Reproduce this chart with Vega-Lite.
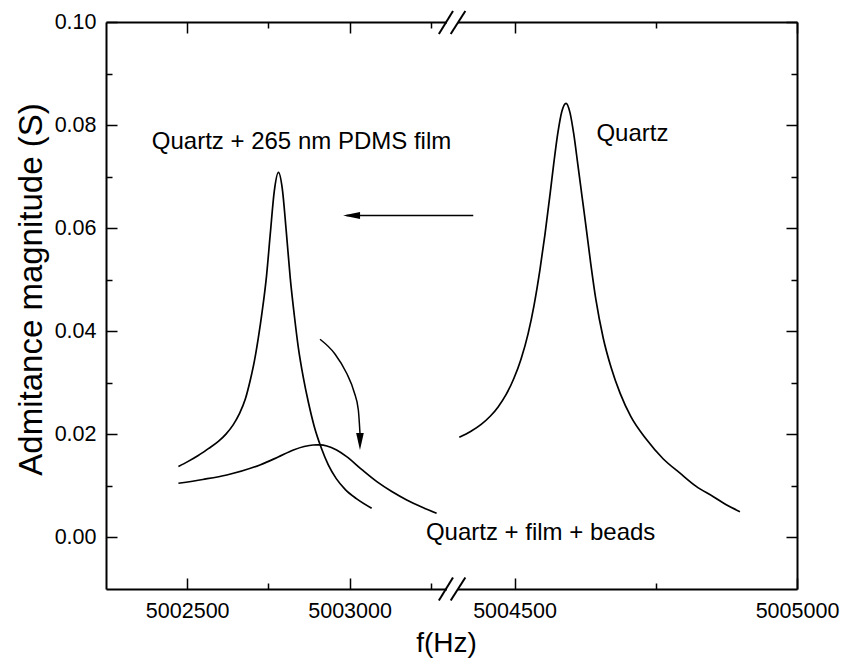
{
  "$schema": "https://vega.github.io/schema/vega-lite/v6.json",
  "autosize": {"type": "none"},
  "padding": {"left": 106, "top": 22, "right": 46, "bottom": 76},
  "width": 691,
  "height": 567,
  "background": "white",
  "config": {
    "view": {"stroke": null},
    "font": "Liberation Sans",
    "axis": {
      "labelFont": "Liberation Sans",
      "titleFont": "Liberation Sans",
      "labelColor": "black",
      "titleColor": "black",
      "domainColor": "black",
      "tickColor": "black",
      "domainWidth": 2,
      "tickWidth": 1.5,
      "grid": false,
      "labelFlush": false,
      "labelOverlap": false,
      "titleFontWeight": "normal"
    }
  },
  "datasets": {
    "curves": [
      {"series": "film", "f": 5002473, "y": 0.01376},
      {"series": "film", "f": 5002503, "y": 0.01476},
      {"series": "film", "f": 5002534, "y": 0.01590},
      {"series": "film", "f": 5002565, "y": 0.01723},
      {"series": "film", "f": 5002596, "y": 0.01863},
      {"series": "film", "f": 5002620, "y": 0.02010},
      {"series": "film", "f": 5002642, "y": 0.02189},
      {"series": "film", "f": 5002660.5, "y": 0.02396},
      {"series": "film", "f": 5002679, "y": 0.02685},
      {"series": "film", "f": 5002694, "y": 0.03045},
      {"series": "film", "f": 5002707, "y": 0.03424},
      {"series": "film", "f": 5002719, "y": 0.03871},
      {"series": "film", "f": 5002731, "y": 0.04390},
      {"series": "film", "f": 5002744, "y": 0.05057},
      {"series": "film", "f": 5002756, "y": 0.05901},
      {"series": "film", "f": 5002768, "y": 0.06710},
      {"series": "film", "f": 5002781, "y": 0.07084},
      {"series": "film", "f": 5002793, "y": 0.06759},
      {"series": "film", "f": 5002805, "y": 0.05944},
      {"series": "film", "f": 5002817.5, "y": 0.05020},
      {"series": "film", "f": 5002830, "y": 0.04301},
      {"series": "film", "f": 5002842, "y": 0.03694},
      {"series": "film", "f": 5002857.5, "y": 0.03106},
      {"series": "film", "f": 5002873, "y": 0.02627},
      {"series": "film", "f": 5002891, "y": 0.02159},
      {"series": "film", "f": 5002913, "y": 0.01735},
      {"series": "film", "f": 5002934.5, "y": 0.01408},
      {"series": "film", "f": 5002959, "y": 0.01141},
      {"series": "film", "f": 5002987, "y": 0.00929},
      {"series": "film", "f": 5003021, "y": 0.00754},
      {"series": "film", "f": 5003068, "y": 0.00567},
      {"series": "quartz", "f": 5004402.3, "y": 0.01944},
      {"series": "quartz", "f": 5004423, "y": 0.02061},
      {"series": "quartz", "f": 5004441, "y": 0.02194},
      {"series": "quartz", "f": 5004457, "y": 0.02351},
      {"series": "quartz", "f": 5004471, "y": 0.02533},
      {"series": "quartz", "f": 5004485, "y": 0.02770},
      {"series": "quartz", "f": 5004499, "y": 0.03088},
      {"series": "quartz", "f": 5004511.5, "y": 0.03459},
      {"series": "quartz", "f": 5004524, "y": 0.03950},
      {"series": "quartz", "f": 5004534.5, "y": 0.04499},
      {"series": "quartz", "f": 5004545, "y": 0.05192},
      {"series": "quartz", "f": 5004554, "y": 0.05887},
      {"series": "quartz", "f": 5004563, "y": 0.06665},
      {"series": "quartz", "f": 5004570, "y": 0.07300},
      {"series": "quartz", "f": 5004577, "y": 0.07867},
      {"series": "quartz", "f": 5004584, "y": 0.08273},
      {"series": "quartz", "f": 5004591.2, "y": 0.08423},
      {"series": "quartz", "f": 5004598, "y": 0.08252},
      {"series": "quartz", "f": 5004605, "y": 0.07818},
      {"series": "quartz", "f": 5004612, "y": 0.07243},
      {"series": "quartz", "f": 5004619.5, "y": 0.06619},
      {"series": "quartz", "f": 5004626.5, "y": 0.06037},
      {"series": "quartz", "f": 5004635, "y": 0.05309},
      {"series": "quartz", "f": 5004644, "y": 0.04617},
      {"series": "quartz", "f": 5004657, "y": 0.03870},
      {"series": "quartz", "f": 5004671, "y": 0.03296},
      {"series": "quartz", "f": 5004687, "y": 0.02795},
      {"series": "quartz", "f": 5004706, "y": 0.02343},
      {"series": "quartz", "f": 5004733, "y": 0.01909},
      {"series": "quartz", "f": 5004763, "y": 0.01527},
      {"series": "quartz", "f": 5004793, "y": 0.01247},
      {"series": "quartz", "f": 5004821, "y": 0.00996},
      {"series": "quartz", "f": 5004852, "y": 0.00791},
      {"series": "quartz", "f": 5004874, "y": 0.00638},
      {"series": "quartz", "f": 5004899, "y": 0.00500},
      {"series": "beads", "f": 5002473, "y": 0.01051},
      {"series": "beads", "f": 5002548, "y": 0.01125},
      {"series": "beads", "f": 5002622, "y": 0.01212},
      {"series": "beads", "f": 5002724, "y": 0.01406},
      {"series": "beads", "f": 5002780, "y": 0.01560},
      {"series": "beads", "f": 5002827, "y": 0.01697},
      {"series": "beads", "f": 5002860, "y": 0.01765},
      {"series": "beads", "f": 5002888, "y": 0.01794},
      {"series": "beads", "f": 5002910, "y": 0.01795},
      {"series": "beads", "f": 5002930, "y": 0.01775},
      {"series": "beads", "f": 5002960, "y": 0.01695},
      {"series": "beads", "f": 5002991, "y": 0.01567},
      {"series": "beads", "f": 5003037, "y": 0.01320},
      {"series": "beads", "f": 5003084, "y": 0.01082},
      {"series": "beads", "f": 5003130, "y": 0.00890},
      {"series": "beads", "f": 5003176, "y": 0.00727},
      {"series": "beads", "f": 5003222, "y": 0.00590},
      {"series": "beads", "f": 5003268, "y": 0.00469}
    ],
    "labels": [
      {"text": "Quartz + 265 nm PDMS film", "f": 5002391, "y": 0.0753},
      {"text": "Quartz", "f": 5004645, "y": 0.07697},
      {"text": "Quartz + film + beads", "f": 5003235, "y": -0.00048}
    ],
    "arrows": [
      {"id": "shift", "f": 5004427, "y": 0.06246},
      {"id": "shift", "f": 5002990, "y": 0.06246},
      {"id": "drop", "f": 5002909, "y": 0.03845},
      {"id": "drop", "f": 5002955, "y": 0.0356},
      {"id": "drop", "f": 5002991, "y": 0.03185},
      {"id": "drop", "f": 5003014, "y": 0.02823},
      {"id": "drop", "f": 5003027, "y": 0.02473},
      {"id": "drop", "f": 5003032, "y": 0.02027}
    ],
    "heads": [
      {"dir": "left", "f": 5002980, "y": 0.06246},
      {"dir": "down", "f": 5003032, "y": 0.01697}
    ],
    "gaps": [
      {"f": 5003300, "f2": 5004400, "y": 0.0994, "y2": 0.1006},
      {"f": 5003300, "f2": 5004400, "y": -0.0106, "y2": -0.0094}
    ],
    "slashes": [
      {"f": 5003275, "f2": 5003900, "y": 0.09767, "y2": 0.10213},
      {"f": 5003670, "f2": 5004413, "y": 0.09767, "y2": 0.10213},
      {"f": 5003275, "f2": 5003900, "y": -0.01223, "y2": -0.00777},
      {"f": 5003670, "f2": 5004413, "y": -0.01223, "y2": -0.00777}
    ]
  },
  "resolve": {"axis": {"x": "independent", "y": "independent"}},
  "layer": [
    {
      "data": {"name": "curves"},
      "mark": {"type": "line", "interpolate": "monotone", "color": "black", "strokeWidth": 1.7},
      "encoding": {
        "x": {
          "field": "f", "type": "quantitative",
          "scale": {"domain": [5002250, 5003300, 5004400, 5005000], "range": [0, 341, 352, 691], "nice": false, "zero": false},
          "axis": {"orient": "bottom", "values": [5002500, 5003000, 5004500, 5005000], "format": "d", "tickSize": -11, "labelPadding": 22, "labelFontSize": 21.5, "title": "f(Hz)", "titleFontSize": 28, "titlePadding": 8, "titleX": 340}
        },
        "y": {
          "field": "y", "type": "quantitative",
          "scale": {"domain": [-0.01, 0.10], "nice": false, "zero": false},
          "axis": {"orient": "left", "values": [0, 0.02, 0.04, 0.06, 0.08, 0.10], "format": ".2f", "tickSize": -11, "labelPadding": 21, "labelFontSize": 21.5, "title": "Admitance magnitude (S)", "titleFontSize": 33, "titlePadding": 6, "titleY": 267}
        },
        "detail": {"field": "series"}
      }
    },
    {
      "data": {"name": "labels"},
      "mark": {"type": "text", "align": "left", "baseline": "alphabetic", "fontSize": 24, "font": "Liberation Sans", "color": "black"},
      "encoding": {
        "x": {
          "field": "f", "type": "quantitative",
          "scale": {"domain": [5002250, 5003300, 5004400, 5005000], "range": [0, 341, 352, 691], "nice": false, "zero": false},
          "axis": {"orient": "top", "values": [5002500, 5003000, 5004500, 5005000], "tickSize": -11, "labels": false, "title": null}
        },
        "y": {
          "field": "y", "type": "quantitative",
          "scale": {"domain": [-0.01, 0.10], "nice": false, "zero": false},
          "axis": {"orient": "right", "values": [0, 0.02, 0.04, 0.06, 0.08, 0.10], "tickSize": -11, "labels": false, "title": null}
        },
        "text": {"field": "text"}
      }
    },
    {
      "data": {"name": "arrows"},
      "mark": {"type": "line", "interpolate": "monotone", "color": "black", "strokeWidth": 1.5},
      "encoding": {
        "x": {
          "field": "f", "type": "quantitative",
          "scale": {"domain": [5002250, 5003300, 5004400, 5005000], "range": [0, 341, 352, 691], "nice": false, "zero": false},
          "axis": {"orient": "bottom", "values": [5002750, 5003250, 5004750], "tickSize": -6, "labels": false, "domain": false, "title": null}
        },
        "y": {
          "field": "y", "type": "quantitative",
          "scale": {"domain": [-0.01, 0.10], "nice": false, "zero": false},
          "axis": {"orient": "left", "values": [0.01, 0.03, 0.05, 0.07, 0.09], "tickSize": -6, "labels": false, "domain": false, "title": null}
        },
        "detail": {"field": "id"}
      }
    },
    {
      "data": {"name": "heads"},
      "mark": {"type": "point", "filled": true, "color": "black", "size": 289, "opacity": 1, "strokeWidth": 0},
      "encoding": {
        "x": {
          "field": "f", "type": "quantitative",
          "scale": {"domain": [5002250, 5003300, 5004400, 5005000], "range": [0, 341, 352, 691], "nice": false, "zero": false},
          "axis": {"orient": "top", "values": [5002750, 5003250, 5004750], "tickSize": -6, "labels": false, "domain": false, "title": null}
        },
        "y": {
          "field": "y", "type": "quantitative",
          "scale": {"domain": [-0.01, 0.10], "nice": false, "zero": false},
          "axis": {"orient": "right", "values": [0.01, 0.03, 0.05, 0.07, 0.09], "tickSize": -6, "labels": false, "domain": false, "title": null}
        },
        "shape": {
          "field": "dir", "type": "nominal",
          "scale": {"domain": ["left", "down"], "range": ["M0,0L2,-0.42L2,0.42Z", "M0,0L-0.45,-2L0.45,-2Z"]},
          "legend": null
        }
      }
    },
    {
      "data": {"name": "gaps"},
      "mark": {"type": "rect", "color": "white", "opacity": 1},
      "encoding": {
        "x": {"field": "f", "type": "quantitative", "scale": {"domain": [5002250, 5003300, 5004400, 5005000], "range": [0, 341, 352, 691], "nice": false, "zero": false}, "axis": null},
        "x2": {"field": "f2"},
        "y": {"field": "y", "type": "quantitative", "scale": {"domain": [-0.01, 0.10], "nice": false, "zero": false}, "axis": null},
        "y2": {"field": "y2"}
      }
    },
    {
      "data": {"name": "slashes"},
      "mark": {"type": "rule", "color": "black", "strokeWidth": 2},
      "encoding": {
        "x": {"field": "f", "type": "quantitative", "scale": {"domain": [5002250, 5003300, 5004400, 5005000], "range": [0, 341, 352, 691], "nice": false, "zero": false}, "axis": null},
        "x2": {"field": "f2"},
        "y": {"field": "y", "type": "quantitative", "scale": {"domain": [-0.01, 0.10], "nice": false, "zero": false}, "axis": null},
        "y2": {"field": "y2"}
      }
    }
  ]
}
